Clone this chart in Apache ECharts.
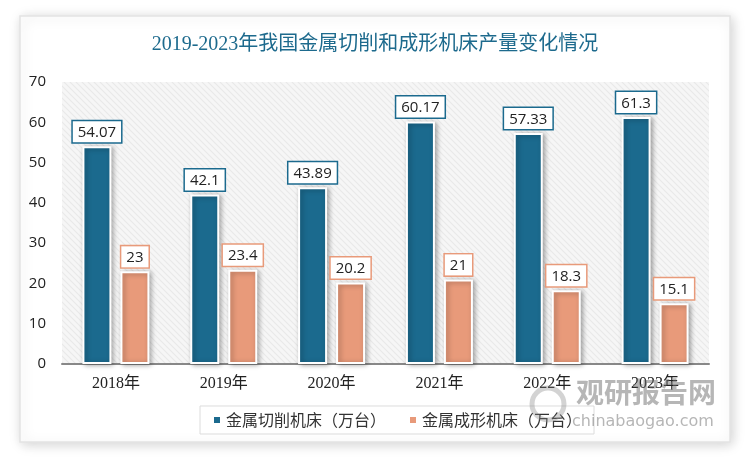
<!DOCTYPE html>
<html><head><meta charset="utf-8">
<script src="https://cdn.jsdelivr.net/npm/echarts@6/dist/echarts.min.js"></script>
<style>html,body{margin:0;padding:0;background:#fff;}#c{width:750px;height:459px;}</style>
</head><body><div id="c"></div>
<script>
var categories = ['2018年','2019年','2020年','2021年','2022年','2023年'];
var cuttingValues = [54.07, 42.1, 43.89, 60.17, 57.33, 61.3];
var formingValues = [23, 23.4, 20.2, 21, 18.3, 15.1];
var yTicks = [0, 10, 20, 30, 40, 50, 60, 70];
var seriesNames = ['金属切削机床（万台）', '金属成形机床（万台）'];

var pc = document.createElement('canvas');
pc.width = 6; pc.height = 6;
var g = pc.getContext('2d');
g.fillStyle = '#f6f6f6'; g.fillRect(0,0,6,6);
g.strokeStyle = '#e9e9e9'; g.lineWidth = 1.2;
g.beginPath();
g.moveTo(-1,-1); g.lineTo(7,7);
g.moveTo(-4,2); g.lineTo(4,10);
g.moveTo(2,-4); g.lineTo(10,4);
g.stroke();

var blue = '#1b6a8e', orange = '#e89a7a';
var chart = echarts.init(document.getElementById('c'));
function lbl(color){
  return {show:true, position:'top', distance:4, color:'#222', fontSize:15,
    fontFamily:'Open Sans, Noto Sans, sans-serif',
    backgroundColor:'#fff', borderColor:color, borderWidth:1.5, padding:[4,5,2,5]};
}
chart.setOption({
  animation:false,
  graphic:[
    {type:'rect', z:-10, shape:{x:20,y:16,width:710,height:426},
     style:{fill:'#fff', stroke:'#e4e4e4', lineWidth:1.5, shadowBlur:12, shadowColor:'rgba(0,0,0,0.18)', shadowOffsetX:2, shadowOffsetY:2}},
    {type:'text', z:50, left:576, top:378, style:{text:'观研报告网', fill:'rgba(110,110,110,0.5)', font:'bold 28px "Noto Sans CJK SC"'}},
    {type:'text', z:50, left:572, top:414, style:{text:'chinabaogao.com', fill:'rgba(110,110,110,0.5)', font:'16px "DejaVu Sans"'}},
    {type:'circle', z:50, shape:{cx:548,cy:404,r:16}, style:{fill:'none', stroke:'rgba(130,130,130,0.35)', lineWidth:5}}
  ],
  title:{text:'2019-2023年我国金属切削和成形机床产量变化情况', left:'center', top:30,
    textStyle:{color:'#1d6a8d', fontSize:20, fontWeight:'normal', fontFamily:'Liberation Serif, Noto Sans CJK SC'}},
  legend:{bottom:25, left:200, itemWidth:8, itemHeight:8, icon:'rect', itemGap:22,
    borderColor:'#dcdcdc', borderWidth:1, padding:[6,12],
    textStyle:{fontSize:16, color:'#333', fontFamily:'Noto Sans CJK SC'}},
  grid:{left:62, right:41, top:82, bottom:95, show:true, borderWidth:0,
    backgroundColor:{image:pc, repeat:'repeat'}},
  xAxis:{type:'category', data:categories,
    axisLine:{lineStyle:{color:'#888', width:2}}, axisTick:{show:false},
    axisLabel:{fontSize:16, color:'#222', margin:12, fontFamily:'Liberation Serif, Noto Sans CJK SC'}},
  yAxis:{type:'value', min:yTicks[0], max:yTicks[yTicks.length-1], interval:10,
    axisLine:{show:false}, axisTick:{show:false}, splitLine:{show:false},
    axisLabel:{fontSize:15, color:'#222', margin:16, fontFamily:'Open Sans, sans-serif'}},
  series:[
    {name:seriesNames[0], type:'bar', data:cuttingValues, barWidth:29, barGap:'31%',
     itemStyle:{color:blue, borderColor:'#fff', borderWidth:2, shadowBlur:5, shadowColor:'rgba(0,0,0,0.35)', shadowOffsetX:2, shadowOffsetY:1},
     label:lbl(blue)},
    {name:seriesNames[1], type:'bar', data:formingValues, barWidth:29,
     itemStyle:{color:orange, borderColor:'#fff', borderWidth:2, shadowBlur:5, shadowColor:'rgba(0,0,0,0.35)', shadowOffsetX:2, shadowOffsetY:1},
     label:lbl(orange)}
  ]
});
</script></body></html>
